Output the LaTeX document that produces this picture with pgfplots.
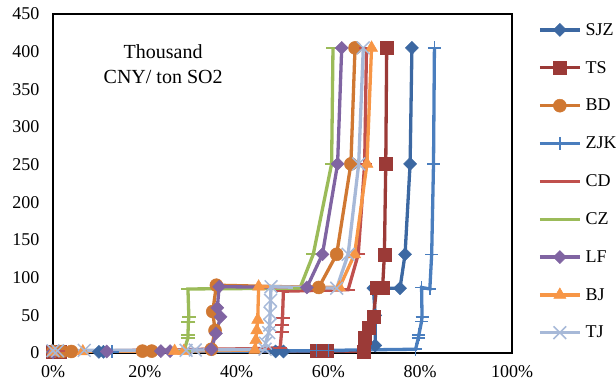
\documentclass[border=0pt]{standalone}
\usepackage{fontspec}
\setmainfont{Liberation Serif}
\usepackage{pgfplots}
\pgfplotsset{compat=1.18}
\usetikzlibrary{plotmarks}
\definecolor{cSJZ}{RGB}{60,104,162}
\definecolor{cTS}{RGB}{155,58,55}
\definecolor{cBD}{RGB}{208,120,50}
\definecolor{cZJK}{RGB}{74,126,190}
\definecolor{cCD}{RGB}{192,80,77}
\definecolor{cCZ}{RGB}{155,187,89}
\definecolor{cLF}{RGB}{128,100,162}
\definecolor{cBJ}{RGB}{247,150,70}
\definecolor{cTJ}{RGB}{167,185,216}
\begin{document}
\begin{tikzpicture}
\begin{axis}[
  scale only axis, width=459pt, height=339pt,
  xmin=0, xmax=100, ymin=0, ymax=450,
  xtick={0,20,40,60,80,100},
  xticklabels={0\%,20\%,40\%,60\%,80\%,100\%},
  ytick={0,50,...,450},
  major tick length=0pt,
  /pgf/number format/assume math mode=true,
  tick label style={font=\fontsize{18}{20}\selectfont},
  xticklabel style={yshift=-9pt},
  yticklabel style={xshift=-10pt},
  axis line style={line width=1.3pt, black},
  every axis plot/.append style={line width=3.3pt},
  legend cell align=left,
  legend style={draw=none, fill=none, at={(1,1)}, anchor=north west, xshift=26pt, yshift=-7pt,
     row sep=20.5pt, column sep=2pt, font=\fontsize{18}{20}\selectfont, inner sep=0pt},
  legend image code/.code={\draw[mark repeat=2,mark phase=2,#1] plot coordinates {(0pt,0pt) (20pt,0pt) (40pt,0pt)};},
]
\addplot[color=cSJZ, mark=square*, mark size=4.6pt, mark options={rotate=45, line width=0.5pt}] coordinates {
(0,1) (10,1.5) (11,1.5) (48.5,2) (50.2,2) (67.5,3) (70.2,10) (70.2,50) (69.8,86) (75.6,86) (76.7,131) (77.8,251) (78.2,405)};
\addlegendentry{SJZ}
\addplot[color=cTS, mark=square*, mark size=6.5pt, mark options={line width=0.5pt}] coordinates {
(0,1) (1.5,1) (57.5,3) (59.7,3) (67.8,2) (68,20) (68.7,33) (69.8,48) (70.5,86) (71.8,86) (72.2,131) (72.5,251) (72.7,405)};
\addlegendentry{TS}
\addplot[color=cBD, mark=*, mark size=6.5pt, mark options={line width=0.5pt}] coordinates {
(0,2) (2,2) (4,2) (19.5,2.5) (21.5,2.5) (34.5,5) (35.3,30) (34.8,55) (35.6,90) (57.9,87) (61.8,131) (64.9,251) (65.8,405)};
\addlegendentry{BD}
\addplot[color=cZJK, mark=+, mark size=6.5pt, mark options={line width=1.5pt}] coordinates {
(0,1) (12.9,1.5) (57.4,3) (60,3.5) (79,5) (79.6,20) (79.7,24) (80.3,42) (80.4,48) (80.3,87) (82.1,85) (82.5,131) (82.9,251) (83.1,405)};
\addlegendentry{ZJK}
\addplot[color=cCD, mark=-, mark size=7pt, mark options={line width=2pt}] coordinates {
(0,2) (1,2) (46,6) (49.5,7) (49.8,28) (49.9,37) (50,47) (50.2,82) (64.3,84) (66.5,131) (67.9,251) (68.3,405)};
\addlegendentry{CD}
\addplot[color=cCZ, mark=-, mark size=7pt, mark options={line width=2pt}] coordinates {
(0,1) (28.5,2) (29.4,20) (29.4,24) (29.5,41) (29.6,48) (29.4,85) (53.8,86) (56.7,131) (60.7,251) (61,405)};
\addlegendentry{CZ}
\addplot[color=cLF, mark=square*, mark size=4.6pt, mark options={rotate=45, line width=0.5pt}] coordinates {
(0,1) (11.7,2) (23.5,2.5) (25.5,2.5) (34.5,5) (35.5,26) (36.5,48) (35.8,60) (36.2,88) (55.3,87) (58.7,131) (62,251) (62.9,405)};
\addlegendentry{LF}
\addplot[color=cBJ, mark=triangle*, mark size=7pt, mark options={line width=0.5pt}] coordinates {
(0,1) (6.5,2) (26.5,2.5) (28.5,2.5) (44,4) (44.2,17) (44.4,30) (44.6,44) (44.8,88) (62.4,87) (65.7,131) (68.4,251) (69.4,405)};
\addlegendentry{BJ}
\addplot[color=cTJ, mark=x, mark size=9pt, mark options={line width=1.5pt}] coordinates {
(0,3) (1,3) (6.8,3.5) (29,3.5) (31,4) (46.2,5) (46.3,13) (47,27) (47.2,37) (47.3,53) (47.4,70) (47.5,88) (61.8,86) (64.3,131) (66.6,251) (67.6,405)};
\addlegendentry{TJ}
\node[align=center, font=\fontsize{20}{25}\selectfont] at (axis cs:24,383) {Thousand\\CNY/ ton SO2};
\end{axis}
\pgfresetboundingbox
\path[use as bounding box] (-53pt,-35pt) rectangle (563pt,353pt);
\end{tikzpicture}
\end{document}
